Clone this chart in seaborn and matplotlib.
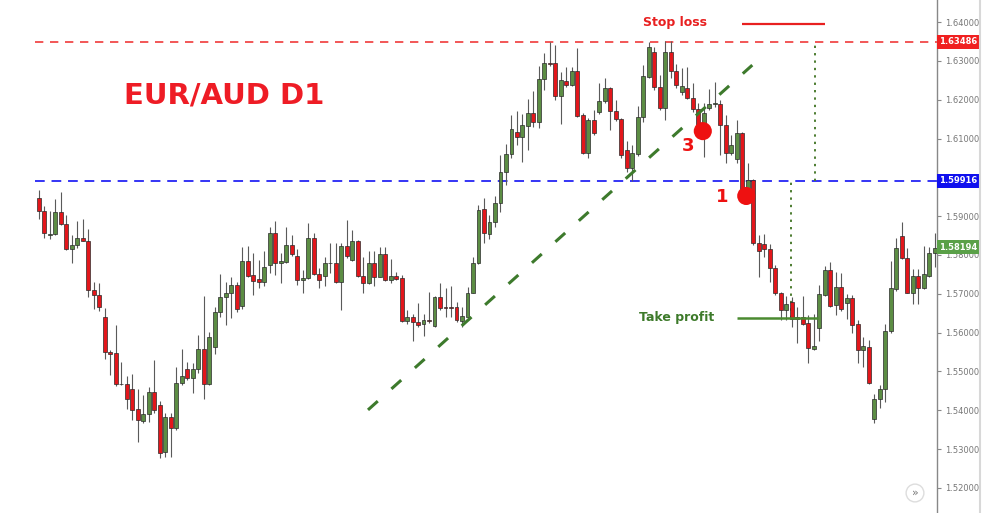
import matplotlib
matplotlib.use("Agg")
import matplotlib.pyplot as plt
import matplotlib.transforms as mtransforms
from matplotlib.lines import Line2D
from matplotlib.patches import Rectangle
import numpy as np
import pandas as pd
import seaborn as sns

# EUR/AUD daily candles
opens = [
    1.5946, 1.5914, 1.5851, 1.5854, 1.5911, 1.5880, 1.5815, 1.5826, 1.5843, 1.5837,
    1.5710, 1.5696, 1.5641, 1.5551, 1.5548, 1.5468, 1.5468, 1.5454, 1.5403, 1.5373,
    1.5390, 1.5448, 1.5414, 1.5293, 1.5383, 1.5354, 1.5470, 1.5506, 1.5483, 1.5506,
    1.5557, 1.5468, 1.5564, 1.5654, 1.5691, 1.5703, 1.5723, 1.5669, 1.5785, 1.5748,
    1.5737, 1.5731, 1.5774, 1.5857, 1.5779, 1.5783, 1.5826, 1.5797, 1.5736, 1.5740,
    1.5843, 1.5751, 1.5746, 1.5780, 1.5779, 1.5731, 1.5823, 1.5787, 1.5837, 1.5746,
    1.5727, 1.5780, 1.5744, 1.5803, 1.5736, 1.5746, 1.5740, 1.5631, 1.5640, 1.5628,
    1.5622, 1.5633, 1.5617, 1.5691, 1.5667, 1.5667, 1.5665, 1.5631, 1.5641, 1.5703,
    1.5779, 1.5918, 1.5853, 1.5884, 1.5933, 1.6013, 1.6060, 1.6116, 1.6105, 1.6133,
    1.6165, 1.6143, 1.6253, 1.6294, 1.6294, 1.6209, 1.6248, 1.6238, 1.6274, 1.6161,
    1.6062, 1.6148, 1.6167, 1.6197, 1.6229, 1.6171, 1.6150, 1.6070, 1.6023, 1.6059,
    1.6156, 1.6259, 1.6322, 1.6233, 1.6178, 1.6322, 1.6274, 1.6219, 1.6229, 1.6205,
    1.6176, 1.6130, 1.6179, 1.6189, 1.6188, 1.6135, 1.6062, 1.6047, 1.6113, 1.5963,
    1.5993, 1.5830, 1.5828, 1.5815, 1.5766, 1.5701, 1.5658, 1.5680, 1.5640, 1.5640,
    1.5624, 1.5557, 1.5611, 1.5697, 1.5761, 1.5671, 1.5717, 1.5676, 1.5689, 1.5622,
    1.5555, 1.5564, 1.5377, 1.5429, 1.5454, 1.5603, 1.5712, 1.5849, 1.5791, 1.5703,
    1.5746, 1.5714, 1.5746, 1.5806,
]
highs = [
    1.5967, 1.5926, 1.5914, 1.5944, 1.5963, 1.5903, 1.5851, 1.5888, 1.5893, 1.5866,
    1.5731, 1.5727, 1.5663, 1.5555, 1.5620, 1.5525, 1.5488, 1.5494, 1.5454, 1.5439,
    1.5459, 1.5530, 1.5425, 1.5393, 1.5393, 1.5512, 1.5557, 1.5525, 1.5521, 1.5594,
    1.5694, 1.5602, 1.5667, 1.5751, 1.5731, 1.5744, 1.5731, 1.5820, 1.5823, 1.5804,
    1.5787, 1.5811, 1.5871, 1.5888, 1.5806, 1.5871, 1.5851, 1.5815, 1.5761, 1.5882,
    1.5857, 1.5766, 1.5796, 1.5830, 1.5830, 1.5830, 1.5890, 1.5864, 1.5839, 1.5796,
    1.5809, 1.5809, 1.5820, 1.5820, 1.5789, 1.5757, 1.5748, 1.5658, 1.5648, 1.5677,
    1.5648, 1.5705, 1.5694, 1.5729, 1.5714, 1.5720, 1.5680, 1.5665, 1.5718, 1.5796,
    1.5929, 1.5946, 1.5903, 1.5953, 1.6058, 1.6085, 1.6161, 1.6171, 1.6162, 1.6202,
    1.6222, 1.6287, 1.6319, 1.6349, 1.6341, 1.6272, 1.6285, 1.6285, 1.6334, 1.6165,
    1.6152, 1.6173, 1.6242, 1.6255, 1.6233, 1.6199, 1.6152, 1.6094, 1.6083, 1.6184,
    1.6289, 1.6349, 1.6336, 1.6264, 1.6350, 1.6350, 1.6291, 1.6281, 1.6285, 1.6242,
    1.6191, 1.6191, 1.6227, 1.6246, 1.6199, 1.6161, 1.6109, 1.6148, 1.6117, 1.6036,
    1.5996, 1.5851, 1.5853, 1.5828, 1.5774, 1.5704, 1.5694, 1.5691, 1.5665, 1.5694,
    1.5645, 1.5648, 1.5723, 1.5772, 1.5783, 1.5757, 1.5754, 1.5700, 1.5697, 1.5633,
    1.5588, 1.5581, 1.5442, 1.5465, 1.5622, 1.5785, 1.5845, 1.5886, 1.5817, 1.5763,
    1.5763, 1.5823, 1.5821, 1.5856,
]
lows = [
    1.5892, 1.5845, 1.5842, 1.5851, 1.5877, 1.5813, 1.5779, 1.5817, 1.5835, 1.5691,
    1.5660, 1.5657, 1.5531, 1.5491, 1.5463, 1.5465, 1.5403, 1.5375, 1.5319, 1.5367,
    1.5371, 1.5393, 1.5277, 1.5281, 1.5281, 1.5349, 1.5465, 1.5478, 1.5444, 1.5495,
    1.5429, 1.5465, 1.5545, 1.5641, 1.5620, 1.5637, 1.5654, 1.5660, 1.5744, 1.5697,
    1.5714, 1.5720, 1.5753, 1.5748, 1.5729, 1.5779, 1.5797, 1.5723, 1.5701, 1.5737,
    1.5748, 1.5714, 1.5720, 1.5753, 1.5727, 1.5658, 1.5791, 1.5785, 1.5744, 1.5701,
    1.5725, 1.5720, 1.5743, 1.5734, 1.5727, 1.5736, 1.5628, 1.5622, 1.5579, 1.5615,
    1.5591, 1.5624, 1.5615, 1.5658, 1.5641, 1.5640, 1.5628, 1.5615, 1.5640, 1.5701,
    1.5777, 1.5830, 1.5841, 1.5873, 1.5911, 1.5980, 1.6051, 1.6083, 1.6040, 1.6070,
    1.6130, 1.6128, 1.6225, 1.6287, 1.6199, 1.6137, 1.6233, 1.6236, 1.6156, 1.6059,
    1.6051, 1.6109, 1.6162, 1.6191, 1.6122, 1.6145, 1.6051, 1.6013, 1.5991, 1.6056,
    1.6142, 1.6255, 1.6225, 1.6173, 1.6148, 1.6255, 1.6229, 1.6212, 1.6202, 1.6169,
    1.6117, 1.6053, 1.6173, 1.6182, 1.6058, 1.6036, 1.6058, 1.6036, 1.5961, 1.5961,
    1.5826, 1.5744, 1.5796, 1.5731, 1.5697, 1.5633, 1.5633, 1.5615, 1.5574, 1.5620,
    1.5523, 1.5555, 1.5579, 1.5694, 1.5665, 1.5645, 1.5657, 1.5634, 1.5598, 1.5521,
    1.5512, 1.5468, 1.5367, 1.5405, 1.5422, 1.5598, 1.5708, 1.5789, 1.5701, 1.5674,
    1.5674, 1.5712, 1.5744, 1.5770,
]
closes = [
    1.5914, 1.5857, 1.5854, 1.5911, 1.5880, 1.5815, 1.5825, 1.5843, 1.5837, 1.5710,
    1.5696, 1.5667, 1.5551, 1.5545, 1.5468, 1.5467, 1.5429, 1.5401, 1.5375, 1.5390,
    1.5448, 1.5401, 1.5291, 1.5384, 1.5354, 1.5471, 1.5488, 1.5483, 1.5506, 1.5557,
    1.5468, 1.5590, 1.5654, 1.5693, 1.5703, 1.5723, 1.5660, 1.5785, 1.5746, 1.5734,
    1.5731, 1.5768, 1.5857, 1.5780, 1.5785, 1.5826, 1.5803, 1.5736, 1.5740, 1.5843,
    1.5751, 1.5736, 1.5780, 1.5779, 1.5731, 1.5823, 1.5797, 1.5837, 1.5746, 1.5727,
    1.5780, 1.5744, 1.5803, 1.5736, 1.5746, 1.5737, 1.5631, 1.5640, 1.5628, 1.5620,
    1.5633, 1.5629, 1.5691, 1.5663, 1.5664, 1.5664, 1.5633, 1.5643, 1.5703, 1.5780,
    1.5916, 1.5856, 1.5885, 1.5933, 1.6013, 1.6060, 1.6124, 1.6105, 1.6135, 1.6165,
    1.6143, 1.6253, 1.6294, 1.6291, 1.6209, 1.6251, 1.6238, 1.6274, 1.6159, 1.6062,
    1.6148, 1.6113, 1.6197, 1.6229, 1.6171, 1.6150, 1.6058, 1.6025, 1.6062, 1.6156,
    1.6262, 1.6336, 1.6233, 1.6178, 1.6322, 1.6274, 1.6238, 1.6236, 1.6205, 1.6176,
    1.6133, 1.6165, 1.6188, 1.6191, 1.6135, 1.6062, 1.6083, 1.6113, 1.5963, 1.5993,
    1.5830, 1.5810, 1.5815, 1.5766, 1.5701, 1.5658, 1.5674, 1.5634, 1.5634, 1.5622,
    1.5560, 1.5566, 1.5700, 1.5761, 1.5669, 1.5717, 1.5660, 1.5689, 1.5620, 1.5555,
    1.5566, 1.5470, 1.5429, 1.5454, 1.5605, 1.5714, 1.5817, 1.5791, 1.5703, 1.5746,
    1.5714, 1.5751, 1.5806, 1.5819,
]

stop_loss = 1.63486
entry = 1.59916
last_price = 1.58194
take_profit = 1.5638
trend_x = [59.9, 129.8]
trend_y = [1.5401, 1.6289]
marks_x = [120.8, 128.7]
marks_y = [1.6119, 1.5952]
marks_text = ["3", "1"]
y_ticks = [1.52, 1.53, 1.54, 1.55, 1.56, 1.57, 1.58, 1.59, 1.60, 1.61, 1.62, 1.63, 1.64]
hidden_ticks = [1.60]  # sits under the blue price tag

assert len(opens) == len(highs) == len(lows) == len(closes)

df = pd.DataFrame({"open": opens, "high": highs, "low": lows, "close": closes})
df["up"] = df["close"] >= df["open"]

sns.set_style("white")
plt.rcParams["font.family"] = ["DejaVu Sans"]

fig = plt.figure(figsize=(10, 5.13), dpi=100)
ax = fig.add_axes([0.03, 0.0, 0.907, 1.0])

RED = "#e3161b"
GREEN = "#5c8d44"
x = np.arange(len(df))

# wicks
ax.vlines(x, df["low"], df["high"], color="#5a5a5a", lw=0.8, zorder=2)
# bodies
body_h = np.maximum((df["close"] - df["open"]).abs(), 0.00008)
body_b = np.minimum(df["open"], df["close"])
ax.bar(x, body_h, bottom=body_b, width=0.72,
       color=np.where(df["up"], GREEN, RED), edgecolor="#2a2a2a", lw=0.5, zorder=3)

# horizontal levels
ax.hlines(stop_loss, -0.7, 163.4, color="#f03a3a", lw=1.2, linestyles=(0, (5, 4)), zorder=1)
ax.hlines(entry, -0.7, 163.4, color="#3434f5", lw=1.4, linestyles=(0, (5, 3.5)), zorder=1)

# trend line
ax.plot(trend_x, trend_y, color="#3d7a2c", lw=2.2, linestyle=(0, (4.3, 6)), zorder=4)

# dotted verticals
ax.vlines(141.2, entry, stop_loss, color="#4c7c30", lw=1.4, linestyles=(0, (1.2, 2.6)), zorder=1)
ax.vlines(136.9, take_profit, entry, color="#4c7c30", lw=1.4, linestyles=(0, (1.2, 2.6)), zorder=1)

# stop loss / take profit markers
ax.hlines(1.6395, 128.0, 143.1, color="#e82020", lw=1.6, zorder=4)
ax.text(115.8, 1.6400, "Stop loss", color="#e82020", fontsize=9, fontweight="bold",
        ha="center", va="center")
ax.hlines(take_profit, 127.0, 141.8, color="#4a8a30", lw=1.8, zorder=4)
ax.text(116.1, take_profit, "Take profit", color="#3d7a2a", fontsize=9, fontweight="bold",
        ha="center", va="center")

# entry circles
sns.scatterplot(x=marks_x, y=marks_y, s=170, color="#ee1111", edgecolor="none", ax=ax,
                zorder=5, legend=False)
ax.text(118.1, 1.6081, marks_text[0], color="#ee1111", fontsize=13, fontweight="bold",
        ha="center", va="center")
ax.text(124.3, 1.5949, marks_text[1], color="#ee1111", fontsize=13, fontweight="bold",
        ha="center", va="center")

ax.text(33.7, 1.6212, "EUR/AUD D1", color="#ee1c25", fontsize=21, fontweight="bold",
        ha="center", va="center")

ax.set_xlim(-1.58, 163.4)
ax.set_ylim(1.51355, 1.64567)

# right price axis
for s in ["top", "left", "bottom"]:
    ax.spines[s].set_visible(False)
ax.spines["right"].set_color("#888888")
ax.spines["right"].set_linewidth(1.0)
ax.yaxis.tick_right()
ax.set_yticks(y_ticks)
ax.set_yticklabels(["" if v in hidden_ticks else f"{v:.5f}" for v in y_ticks])
ax.tick_params(axis="y", direction="out", length=3, width=0.8, color="#888888",
               labelsize=6, labelcolor="#777777", pad=3)
ax.set_xticks([])

blend = mtransforms.blended_transform_factory(ax.transAxes, ax.transData)
for price, col in [(stop_loss, "#f02020"), (entry, "#1010ee"), (last_price, "#5aa048")]:
    ax.add_patch(Rectangle((1.0, price - 0.0018), 0.047, 0.0036, transform=blend,
                           facecolor=col, edgecolor="none", clip_on=False, zorder=6))
    ax.text(1.0235, price, f"{price:.5f}", transform=blend, color="white", fontsize=6,
            fontweight="bold", ha="center", va="center", zorder=7)

fig.add_artist(Line2D([0.98, 0.98], [0, 1], color="#d8d8d8", lw=1.5))
fig.text(0.915, 1 - 493 / 513, "»", ha="center", va="center", fontsize=8, color="#777777",
         bbox=dict(boxstyle="circle,pad=0.35", fc="white", ec="#dddddd"))

fig.savefig("out.png", dpi=100)
plt.close(fig)
